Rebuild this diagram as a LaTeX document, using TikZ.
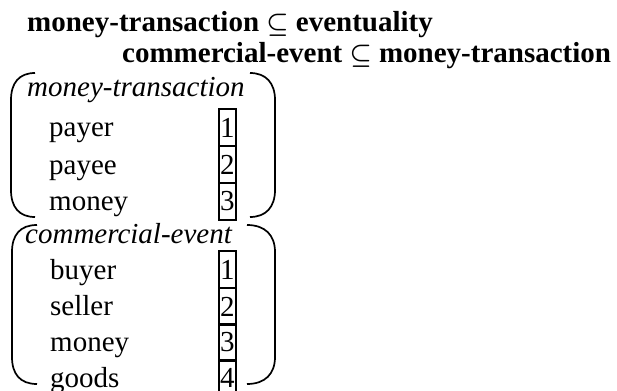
\documentclass[tikz,border=0pt]{standalone}
\usepackage{fontspec}
\setmainfont{Liberation Serif}
\begin{document}
\begin{tikzpicture}[x=1pt,y=-1pt,
  txt/.style={anchor=base west,inner sep=0pt,font=\fontsize{29}{36}\selectfont},
  head/.style={txt,font=\fontsize{29}{36}\selectfont\bfseries},
  typ/.style={txt,font=\fontsize{29}{36}\selectfont\itshape},
  tag/.style={draw,line width=1.9pt,minimum width=17pt,minimum height=37pt,
    inner sep=0pt,anchor=north west,font=\fontsize{29}{36}\selectfont},
  brk/.style={line width=1.7pt}]
\useasboundingbox (0,0) rectangle (617,390);

% type hierarchy
\node[head] (h1) at (27,32) {money-transaction {\boldmath$\subseteq$} eventuality};
\node[head] (h2) at (122,63) {commercial-event {\boldmath$\subseteq$} money-transaction};

% feature structure: money-transaction
\node[typ] (t1) at (27,97) {money-transaction};
\node[txt] (a11) at (49,137) {payer};
\node[txt] (a12) at (49,174) {payee};
\node[txt] (a13) at (49,210) {money};
\node[tag] (b11) at (218,108) {1};
\node[tag] (b12) at (218,145) {2};
\node[tag] (b13) at (218,182) {3};
\draw[brk] (35,73) .. controls (19,73) and (11,83) .. (11,100) -- (11,190)
  .. controls (11,207) and (19,217) .. (35,217);
\draw[brk] (250,73) .. controls (266,73) and (275,83) .. (275,100) -- (275,190)
  .. controls (275,207) and (266,217) .. (250,217);

% feature structure: commercial-event
\node[typ] (t2) at (25,243) {commercial-event};
\node[txt] (a21) at (50,279) {buyer};
\node[txt] (a22) at (50,315) {seller};
\node[txt] (a23) at (50,351) {money};
\node[txt] (a24) at (50,387) {goods};
\node[tag] (b21) at (218,250) {1};
\node[tag] (b22) at (218,287) {2};
\node[tag] (b23) at (218,323) {3};
\node[tag] (b24) at (218,359) {4};
\draw[brk] (37,225) .. controls (20,225) and (12,235) .. (12,252) -- (12,357)
  .. controls (12,374) and (20,384) .. (37,384);
\draw[brk] (247,225) .. controls (265,225) and (275,235) .. (275,252) -- (275,357)
  .. controls (275,374) and (265,384) .. (247,384);
\end{tikzpicture}
\end{document}
